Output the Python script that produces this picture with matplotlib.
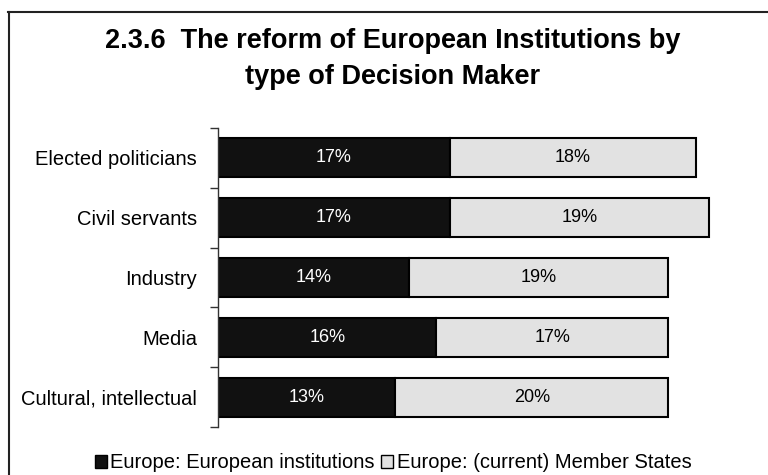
import matplotlib
matplotlib.use("Agg")
import matplotlib.pyplot as plt
from matplotlib.patches import Patch
from matplotlib.lines import Line2D

plt.rcParams['font.family'] = ['Liberation Sans', 'DejaVu Sans']

categories = ["Elected politicians", "Civil servants", "Industry", "Media",
              "Cultural, intellectual"]
eu_institutions = [17, 17, 14, 16, 13]
member_states = [18, 19, 19, 17, 20]
series_names = ["Europe: European institutions", "Europe: (current) Member States"]
title = "2.3.6  The reform of European Institutions by\ntype of Decision Maker"

dark = "#111111"
light = "#e2e2e2"

fig = plt.figure(figsize=(7.68, 4.75), dpi=100)
ax = fig.add_axes([218 / 768, 1 - 427 / 475, 518.7 / 768, 299 / 475])

y = list(range(len(categories)))
ax.barh(y, eu_institutions, height=0.65, color=dark, edgecolor="black", linewidth=1.5)
ax.barh(y, member_states, left=eu_institutions, height=0.65, color=light,
        edgecolor="black", linewidth=1.5)

for i, (a, b) in enumerate(zip(eu_institutions, member_states)):
    ax.text(a / 2, i, f"{a}%", ha="center", va="center", color="white", fontsize=13)
    ax.text(a + b / 2, i, f"{b}%", ha="center", va="center", color="black", fontsize=13)

ax.set_xlim(0, 38)
ax.set_ylim(len(categories) - 0.5, -0.5)
ax.set_yticks(y)
ax.set_yticklabels(categories, fontsize=14.5)
ax.set_yticks([v - 0.5 for v in range(len(categories) + 1)], minor=True)
ax.tick_params(axis="y", which="major", length=0, pad=15)
ax.tick_params(axis="y", which="minor", length=6, width=1, color="#333333")
ax.set_xticks([])
for s in ("top", "right", "bottom"):
    ax.spines[s].set_visible(False)
ax.spines["left"].set_color("#333333")
ax.spines["left"].set_linewidth(1)

fig.text(393 / 768, 1 - 59 / 475, title, ha="center", va="center", fontsize=19.5,
         fontweight="bold", linespacing=1.55)

handles = [Patch(facecolor=dark, edgecolor="black", linewidth=1),
           Patch(facecolor=light, edgecolor="black", linewidth=1)]
fig.legend(handles, series_names, loc="center", bbox_to_anchor=(393 / 768, 1 - 463 / 475),
           ncol=2, frameon=False, fontsize=14.5, handlelength=0.6, handleheight=0.6,
           handletextpad=0.15, columnspacing=0.35)

# outer frame (top and left edges)
fig.add_artist(Line2D([8 / 768, 1.01], [1 - 11.5 / 475] * 2, transform=fig.transFigure,
                      color="#222222", linewidth=1.5))
fig.add_artist(Line2D([8.5 / 768] * 2, [-0.01, 1 - 11.5 / 475], transform=fig.transFigure,
                      color="#222222", linewidth=1.5))

fig.savefig("out.png", dpi=100)
